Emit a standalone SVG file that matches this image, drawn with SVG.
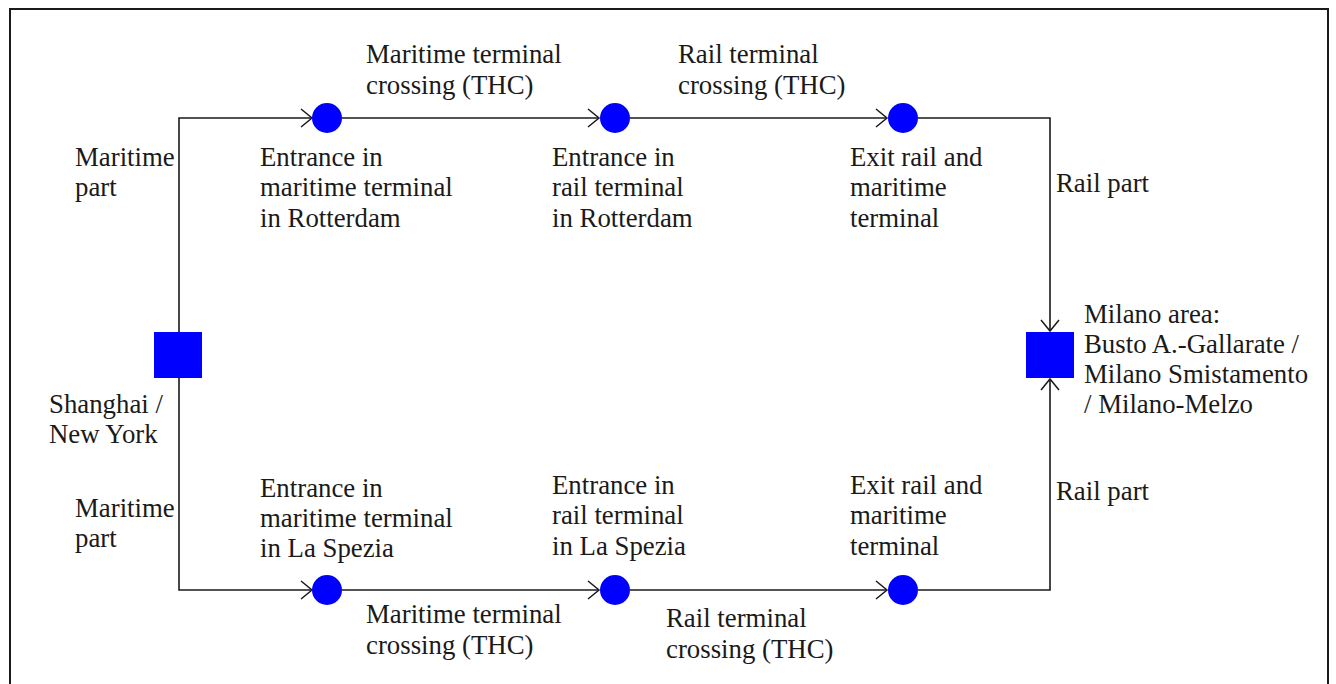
<svg xmlns="http://www.w3.org/2000/svg" width="1336" height="684" viewBox="0 0 1336 684">
<style>
.t{font-family:"Liberation Serif","Times New Roman",serif;font-size:26.8px;fill:#1a1a1a}
.ln{fill:none;stroke:#1a1a1a;stroke-width:1.6}
.c{fill:#0000ff}
</style>
<defs>
<marker id="ah" markerUnits="userSpaceOnUse" markerWidth="14" markerHeight="20" viewBox="-12 -10 14 20" refX="0" refY="0" orient="auto">
<path d="M-11,-9 L0,0 L-11,9" fill="none" stroke="#1a1a1a" stroke-width="1.5"/>
</marker>
</defs>
<rect x="10" y="9" width="1318" height="700" fill="#fff" stroke="#1a1a1a" stroke-width="2"/>
<g id="connectors">
<path class="ln" d="M179,332 V118 H312" marker-end="url(#ah)"/>
<path class="ln" d="M342,118 H599" marker-end="url(#ah)"/>
<path class="ln" d="M630,118 H887" marker-end="url(#ah)"/>
<path class="ln" d="M918,118 H1050 V331" marker-end="url(#ah)"/>
<path class="ln" d="M179,378 V590 H312" marker-end="url(#ah)"/>
<path class="ln" d="M342,590 H599" marker-end="url(#ah)"/>
<path class="ln" d="M630,590 H887" marker-end="url(#ah)"/>
<path class="ln" d="M918,590 H1050 V379" marker-end="url(#ah)"/>
</g>
<g id="shanghai"><rect class="c" x="154" y="332" width="48" height="46"/>
<text class="t" x="49" y="413">Shanghai /</text><text class="t" x="49" y="443">New York</text></g>
<g id="milano"><rect class="c" x="1026" y="332" width="48" height="46"/>
<text class="t" x="1084" y="323">Milano area:</text><text class="t" x="1084" y="353">Busto A.-Gallarate /</text><text class="t" x="1084" y="383">Milano Smistamento</text><text class="t" x="1084" y="413">/ Milano-Melzo</text></g>
<g id="rot-mar"><circle class="c" cx="327" cy="118" r="15"/>
<text class="t" x="260" y="166">Entrance in</text><text class="t" x="260" y="196">maritime terminal</text><text class="t" x="260" y="227">in Rotterdam</text></g>
<g id="rot-rail"><circle class="c" cx="615" cy="118" r="15"/>
<text class="t" x="552" y="166">Entrance in</text><text class="t" x="552" y="196">rail terminal</text><text class="t" x="552" y="227">in Rotterdam</text></g>
<g id="rot-exit"><circle class="c" cx="903" cy="118" r="15"/>
<text class="t" x="850" y="166">Exit rail and</text><text class="t" x="850" y="196">maritime</text><text class="t" x="850" y="227">terminal</text></g>
<g id="sp-mar"><circle class="c" cx="327" cy="590" r="15"/>
<text class="t" x="260" y="497">Entrance in</text><text class="t" x="260" y="527">maritime terminal</text><text class="t" x="260" y="557">in La Spezia</text></g>
<g id="sp-rail"><circle class="c" cx="615" cy="590" r="15"/>
<text class="t" x="552" y="494">Entrance in</text><text class="t" x="552" y="524">rail terminal</text><text class="t" x="552" y="555">in La Spezia</text></g>
<g id="sp-exit"><circle class="c" cx="903" cy="590" r="15"/>
<text class="t" x="850" y="494">Exit rail and</text><text class="t" x="850" y="524">maritime</text><text class="t" x="850" y="555">terminal</text></g>
<g id="labels">
<text class="t" x="366" y="63">Maritime terminal</text><text class="t" x="366" y="94">crossing (THC)</text>
<text class="t" x="678" y="63">Rail terminal</text><text class="t" x="678" y="94">crossing (THC)</text>
<text class="t" x="75" y="166">Maritime</text><text class="t" x="75" y="196">part</text>
<text class="t" x="1056" y="192">Rail part</text>
<text class="t" x="75" y="517">Maritime</text><text class="t" x="75" y="547">part</text>
<text class="t" x="1056" y="500">Rail part</text>
<text class="t" x="366" y="623">Maritime terminal</text><text class="t" x="366" y="654">crossing (THC)</text>
<text class="t" x="666" y="627">Rail terminal</text><text class="t" x="666" y="658">crossing (THC)</text>
</g>
</svg>
